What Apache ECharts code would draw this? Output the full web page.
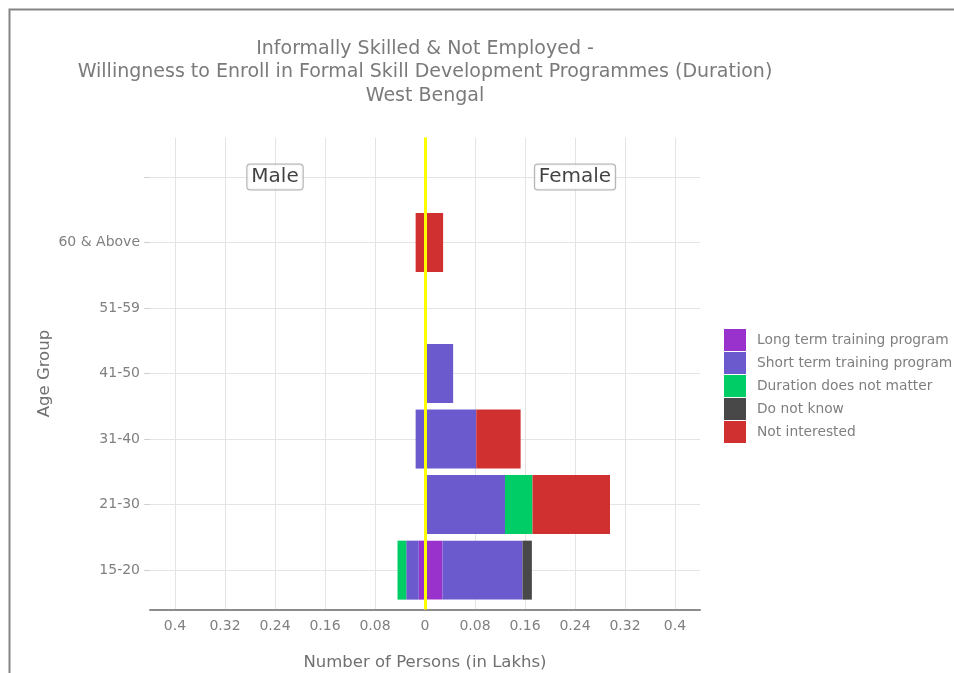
<!DOCTYPE html>
<html>
<head>
<meta charset="utf-8">
<script src="https://cdn.jsdelivr.net/npm/echarts@6/dist/echarts.min.js"></script>
<style>
html,body{margin:0;padding:0;background:#fff;}
#chart{width:954px;height:673px;}
</style>
</head>
<body>
<div id="chart"></div>
<script>
// ---- data ----
const categories = ['15-20', '21-30', '31-40', '41-50', '51-59', '60 & Above', ''];
const seriesNames = ['Long term training program', 'Short term training program', 'Duration does not matter', 'Do not know', 'Not interested'];
const seriesColors = ['#9932CC', '#6A5ACD', '#00CD66', '#484848', '#D13030'];
// Female values (lakhs), bottom to top
const femaleLong  = [0.028, 0.003, 0,     0,     0, 0];
const femaleShort = [0.128, 0.125, 0.082, 0.045, 0, 0];
const femaleDur   = [0,     0.044, 0,     0,     0, 0];
const femaleDk    = [0.015, 0,     0,     0,     0, 0];
const femaleNot   = [0,     0.124, 0.071, 0,     0, 0.029];
// Male values (lakhs), drawn to the left
const maleLong  = [0.010, 0, 0,     0, 0, 0];
const maleShort = [0.020, 0, 0.015, 0, 0, 0];
const maleDur   = [0.014, 0, 0,     0, 0, 0];
const maleDk    = [0,     0, 0,     0, 0, 0];
const maleNot   = [0,     0, 0,     0, 0, 0.015];
const tickValues = [-0.4, -0.32, -0.24, -0.16, -0.08, 0, 0.08, 0.16, 0.24, 0.32, 0.4];
const sideLabels = ['Male', 'Female'];
const sideLabelX = [-0.24, 0.24];

const femaleData = [femaleLong, femaleShort, femaleDur, femaleDk, femaleNot];
const maleData = [maleLong, maleShort, maleDur, maleDk, maleNot];

const FONT = 'DejaVu Sans';
const chart = echarts.init(document.getElementById('chart'), null, {renderer: 'canvas'});

const series = [];
femaleData.forEach((arr, i) => {
  series.push({
    name: seriesNames[i], type: 'bar', stack: 'all', xAxisIndex: 1, yAxisIndex: 1,
    barCategoryGap: '10%', itemStyle: {color: seriesColors[i]},
    data: arr.map(v => v === 0 ? '-' : v)
  });
});
maleData.forEach((arr, i) => {
  series.push({
    name: seriesNames[i], type: 'bar', stack: 'all', xAxisIndex: 1, yAxisIndex: 1,
    barCategoryGap: '10%', itemStyle: {color: seriesColors[i]},
    data: arr.map(v => v === 0 ? '-' : -v)
  });
});
// zero line
series.push({
  type: 'line', xAxisIndex: 0, yAxisIndex: 0, data: [], silent: true, z: 6,
  markLine: {
    silent: true, symbol: ['none', 'none'], label: {show: false}, z: 6,
    lineStyle: {color: '#FFFF00', width: 3, type: 'solid'},
    data: [{xAxis: 0}]
  }
});
// Male / Female tags
series.push({
  type: 'scatter', xAxisIndex: 1, yAxisIndex: 1, symbolSize: 0, silent: true, z: 7,
  data: sideLabelX.map((x, i) => ({value: [x, categories.length - 1], name: sideLabels[i]})),
  label: {
    show: true, position: 'inside', formatter: p => p.name,
    fontFamily: FONT, fontSize: 20, color: '#111111',
    backgroundColor: '#ffffff', borderColor: '#9a9a9a', borderWidth: 1, borderRadius: 3,
    padding: [3, 4, 2, 4]
  }
});

const option = {
  animation: false,
  backgroundColor: '#ffffff',
  title: {
    text: 'Informally Skilled & Not Employed -\nWillingness to Enroll in Formal Skill Development Programmes (Duration)\nWest Bengal',
    left: 425, top: 37, padding: 0, textAlign: 'center',
    textStyle: {fontFamily: FONT, fontSize: 19, fontWeight: 'normal', color: '#7a7a7a', lineHeight: 23.5}
  },
  legend: {
    orient: 'vertical', left: 724, top: 329, padding: 0, itemWidth: 22, itemHeight: 22, itemGap: 1,
    icon: 'rect', selectedMode: false, data: seriesNames,
    textStyle: {fontFamily: FONT, fontSize: 13.8, color: '#7f7f7f', padding: [0, 0, 0, 6]}
  },
  graphic: [{
    type: 'rect', silent: true, z: 100,
    shape: {x: 9.5, y: 9.5, width: 1000, height: 700},
    style: {fill: 'none', stroke: '#858585', lineWidth: 2}
  }],
  grid: [
    {left: 150, right: 254, top: 137.6, bottom: 63.6, outerBoundsMode: 'none', containLabel: false},
    {left: 150, right: 254, top: 144.2, bottom: 70.1, outerBoundsMode: 'none', containLabel: false}
  ],
  xAxis: [
    {
      type: 'value', gridIndex: 0, min: -0.44, max: 0.44,
      name: 'Number of Persons (in Lakhs)', nameLocation: 'middle', nameGap: 45, nameMoveOverlap: false,
      nameTextStyle: {fontFamily: FONT, fontSize: 16.5, color: '#707070'},
      axisLine: {show: true, onZero: false, lineStyle: {color: '#8c8c8c', width: 2}},
      axisTick: {show: false, customValues: tickValues},
      axisLabel: {customValues: tickValues, margin: 10, fontFamily: FONT, fontSize: 14, color: '#808080',
        formatter: v => String(Math.abs(+(+v).toFixed(2)))},
      splitLine: {show: true, lineStyle: {color: '#e4e4e4', width: 1}}
    },
    {type: 'value', gridIndex: 1, min: -0.44, max: 0.44, show: false}
  ],
  yAxis: [
    {
      type: 'value', gridIndex: 0, min: 0.4, max: 7.6,
      axisLine: {show: false, onZero: false}, axisLabel: {show: false},
      axisTick: {show: false, customValues: categories.map((c, i) => i + 1)},
      splitLine: {show: true, lineStyle: {color: '#e4e4e4', width: 1}}
    },
    {
      type: 'category', gridIndex: 1, data: categories,
      name: 'Age Group', nameLocation: 'middle', nameGap: 97, nameMoveOverlap: false,
      nameTextStyle: {fontFamily: FONT, fontSize: 16.5, color: '#707070'},
      axisLine: {show: false, onZero: false},
      axisTick: {show: true, alignWithLabel: true, length: 6, lineStyle: {color: '#d0d0d0'}},
      axisLabel: {margin: 10, fontFamily: FONT, fontSize: 14, color: '#808080'},
      splitLine: {show: false}
    }
  ],
  series: series
};
chart.setOption(option);
</script>
</body>
</html>
